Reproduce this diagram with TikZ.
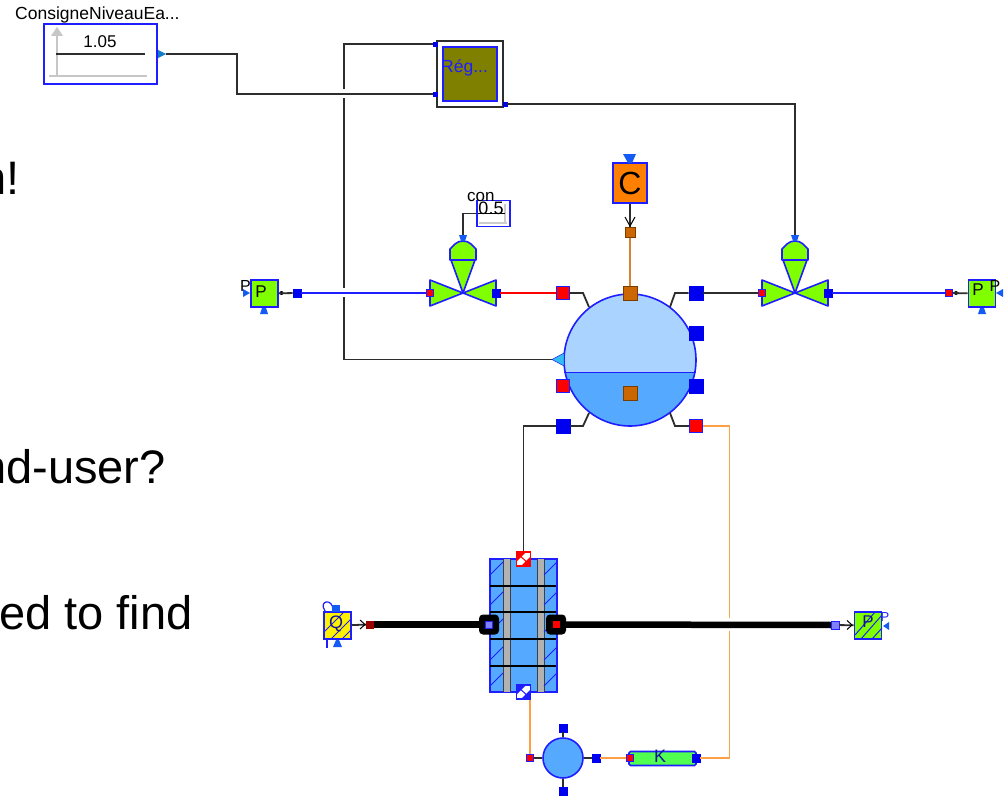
\documentclass[tikz,border=0pt]{standalone}
\usepackage{fontspec}
\setmainfont{Liberation Sans}
\definecolor{bl}{RGB}{30,30,255}
\definecolor{pb}{RGB}{0,0,240}
\definecolor{tip}{RGB}{20,90,245}
\definecolor{grn}{RGB}{128,255,0}
\definecolor{lg}{RGB}{80,255,80}
\definecolor{lb}{RGB}{170,212,255}
\definecolor{mb}{RGB}{85,170,255}
\definecolor{wire}{RGB}{45,45,45}
\definecolor{org}{RGB}{255,128,0}
\definecolor{brn}{RGB}{204,102,0}
\definecolor{olv}{RGB}{128,128,0}
\definecolor{lorg}{RGB}{255,160,70}
\tikzset{
 x=1pt,y=-1pt,
 wireline/.style={draw=wire,line width=1.8pt},
 orgline/.style={draw=lorg,line width=1.9pt},
 blueline/.style={draw=bl,line width=1.8pt},
 thick pipe/.style={draw=black,line width=6.5pt},
 port/.style={rectangle,draw=pb,fill=pb,line width=.6pt,minimum size=#1,inner sep=0pt},
 port/.default=12pt,
 rport/.style={rectangle,draw=bl,fill=red,line width=1.3pt,minimum size=#1,inner sep=0pt},
 rport/.default=12pt,
 bport/.style={rectangle,draw=brn!60!black,fill=brn,line width=1pt,minimum size=#1,inner sep=0pt},
 bport/.default=12pt,
 part/.style={draw=bl,line width=1.6pt,fill=grn,line join=round},
 blbl/.style={inner sep=0pt,font=\fontsize{#1}{#1}\selectfont},
 blbl/.default=12pt,
 slide/.style={inner sep=0pt,anchor=base west,font=\fontsize{47}{47}\selectfont,text=black},
 mini/.style={rectangle,draw=bl,fill=grn,line width=1.6pt,inner sep=0pt},
}
\newcommand{\myvalve}[2]{%
 \path[part] (#1,#2) -- (#1-33,#2-13) -- (#1-33,#2+13) -- cycle;
 \path[part] (#1,#2) -- (#1+33,#2-13) -- (#1+33,#2+13) -- cycle;
 \path[part] (#1,#2) -- (#1-12,#2-33) -- (#1+12,#2-33) -- cycle;
 \path[part] (#1-13,#2-33) -- (#1-13,#2-44) -- (#1-8,#2-49) .. controls (#1-4,#2-53) and (#1+4,#2-53) .. (#1+8,#2-49) -- (#1+13,#2-44) -- (#1+13,#2-33) -- cycle;
 \fill[tip] (#1-4,#2-58) -- (#1+4,#2-58) -- (#1+2,#2-52) -- (#1-2,#2-52) -- cycle;
}
\begin{document}
\begin{tikzpicture}
\useasboundingbox (0,0) rectangle (1008,797);
\fill[white] (0,0) rectangle (1008,797);

% slide text fragments, cut by the picture's left edge as in the reference
\begin{scope}
\clip (0,0) rectangle (1008,797);
\node[slide] (t1) at (-20,194) {n!};
\node[slide] (t2) at (-20,483) {nd-user?};
\node[slide] (t3) at (-1,629) {ed to find};
\end{scope}

% ---------- source block
\node[blbl=17.5pt,anchor=base west] (sname) at (15,20) {ConsigneNiveauEa...};
\node[draw=bl,line width=1.6pt,fill=white,minimum width=113pt,minimum height=60pt,inner sep=0pt] (src) at (100.5,54) {};
\draw[black!22,line width=1.5pt] (57,75) -- (57,32);
\fill[black!22] (51,36) -- (63,36) -- (57,27) -- cycle;
\draw[black!22,line width=1.5pt] (49,76) -- (147,76);
\draw[wire,line width=1.4pt] (56,54) -- (145,54);
\node[blbl=17pt] (val) at (100,42) {1.05};
\fill[cyan!60!blue] (158,50) -- (166,54) -- (158,58) -- cycle;
\coordinate (srcout) at (166,54);

% ---------- regulator
\node[draw=wire,line width=1.6pt,fill=white,minimum width=66pt,minimum height=66pt,inner sep=0pt] (reg) at (470,74) {};
\node[draw=bl,line width=1.6pt,fill=olv,minimum width=54pt,minimum height=54pt,inner sep=0pt] (regin) at (470,74) {};
\node[blbl=17.5pt,text=bl,anchor=west] (regl) at (441,68) {Rég...};
\node[port=4pt] (regA) at (435,44) {};
\node[port=4pt] (regB) at (435,94) {};
\node[port=4pt] (regC) at (505,104) {};

% ---------- tank
\fill[lb] (630,360) circle (66);
\begin{scope}
 \clip (560,372.5) rectangle (700,440);
 \fill[mb] (630,360) circle (66);
\end{scope}
\node[circle,draw=bl,line width=1.6pt,minimum size=132pt,inner sep=0pt] (tank) at (630,360) {};
\draw[bl,line width=1.4pt] (564,372.5) -- (696,372.5);

\node[rport=13pt] (t-in) at (563,293) {};
\node[port=14pt] (t-out) at (696,293) {};
\node[port=14pt] (t-r1) at (696,333) {};
\node[port=14pt] (t-r2) at (696,386) {};
\node[rport=13pt] (t-l2) at (563,386) {};
\node[bport=14pt] (t-top) at (630,293) {};
\node[bport=14pt] (t-mid) at (630,393) {};
\node[port=14pt] (t-bl) at (563,426) {};
\node[rport=13pt] (t-br) at (696,426) {};
\fill[cyan!80!white,draw=bl,line width=.5pt] (564,353) -- (552,359.5) -- (564,366) -- cycle;
\coordinate (t-lvl) at (552,359.5);

\draw[wireline] (t-in) -- (583,293) -- (589,307);
\draw[wireline] (t-out) -- (675,293) -- (670,307);
\draw[wireline] (t-bl) -- (583,426) -- (589,413);
\draw[wireline] (t-br) -- (675,426) -- (670,413);

% ---------- heat source C
\node[draw=bl,line width=1.6pt,fill=org,minimum width=34pt,minimum height=40pt,inner sep=0pt,font=\fontsize{32}{32}\selectfont] (C) at (630,183) {C};
\fill[tip] (623,154) -- (636,154) -- (632,163) -- (628,163) -- cycle;
\node[bport=10pt] (Cp) at (630,232) {};
\draw[wireline] (C) -- (Cp);
\draw[black,line width=1pt] (625,217) -- (630,226) -- (635,217);
\draw[brn,line width=1.8pt,draw opacity=.8] (Cp) -- (t-top);

% ---------- valves
\myvalve{463}{293}
\myvalve{795}{293}
\node[rport=7pt] (v1a) at (430,293) {};
\node[port=8pt] (v1b) at (496,293) {};
\node[rport=7pt] (v2a) at (762,293) {};
\node[port=8pt] (v2b) at (828,293) {};

% con block
\node[draw=bl,line width=1.6pt,fill=white,minimum width=33pt,minimum height=26pt,inner sep=0pt] (con) at (493.5,213.5) {};
\node[blbl=17pt,anchor=base west] (conl) at (467,201) {con};
\draw[black!20,line width=1.2pt] (479,223) -- (507,223);
\draw[black!20,line width=1.2pt] (505,204) -- (505,223);
\node[blbl=18pt] (conv) at (491,208) {0.5};
\draw[black,line width=1pt] (478,213.5) -- (505,213.5);
\draw[wireline] (con.west) -- (463,213.5) -- (463,235);

% ---------- pressure blocks top
\node[mini,minimum width=27pt,minimum height=27pt] (PL) at (264.5,293.5) {};
\node[blbl=17pt] (PLl) at (261,292) {P};
\node[blbl=16pt] (PLn) at (245.5,286) {P};
\fill[tip] (243,289) -- (250,293) -- (243,297) -- cycle;
\fill[tip] (260,314) -- (268,314) -- (266,308) -- (262,308) -- cycle;
\node[port=8pt] (PLp) at (297,293) {};
\fill[black] (281.5,293) circle (2);
\draw[wireline] (PL) -- (PLp);
\node[mini,minimum width=27pt,minimum height=27pt] (PR) at (982,293.5) {};
\node[blbl=17pt] (PRl) at (978,290) {P};
\node[blbl=16pt] (PRn) at (995,286) {P};
\fill[tip] (1003,289) -- (996,293) -- (1003,297) -- cycle;
\fill[tip] (978,314) -- (986,314) -- (984,308) -- (980,308) -- cycle;
\node[rport=7pt] (PRp) at (949,293) {};
\fill[black] (956,293) circle (2);
\draw[wireline] (PRp) -- (PR);

% ---------- main connectors
\draw[wireline] (regA) -- (344,44) -- (344,359.5) -- (t-lvl);
\fill[white] (341,89) rectangle (347,98);
\fill[white] (341,288) rectangle (347,297);
\draw[wireline] (srcout) -- (237,54) -- (237,94) -- (regB);
\draw[blueline] (PLp) -- (v1a);
\draw[red,line width=1.6pt] (v1b) -- (t-in);
\draw[wireline] (t-out) -- (v2a);
\draw[blueline] (v2b) -- (PRp);
\draw[wireline] (regC) -- (795,104) -- (795,235);

% ---------- heat exchanger
\fill[mb,draw=bl,line width=1.6pt] (490,559) rectangle (557,692);
\fill[black!30] (503,559) rectangle (510,692);
\fill[black!30] (537,559) rectangle (544,692);
\foreach \xx in {503,510,537,544} \draw[black!75,line width=.9pt] (\xx,559) -- (\xx,692);
\foreach \xa/\xb in {490/503,544/557} {
 \foreach \yy in {575,605,632,660,686} \draw[bl,line width=1pt] (\xa,\yy) -- (\xb,\yy-13);
}
\foreach \yy in {586,612,639,666} \draw[black,line width=1.3pt] (490,\yy) -- (556,\yy);
\node[draw=red,line width=1.6pt,fill=white,minimum size=14pt,inner sep=0pt] (hxT) at (523.5,559) {};
\fill[red] (517,553) -- (525,553) -- (517,561) -- cycle;
\fill[red] (530,565) -- (522,565) -- (530,557) -- cycle;
\draw[red,line width=1pt] (517,553) -- (530,565);
\node[draw=bl,line width=1.6pt,fill=white,minimum size=14pt,inner sep=0pt] (hxB) at (523.5,692) {};
\fill[bl] (517,686) -- (525,686) -- (517,694) -- cycle;
\fill[bl] (530,698) -- (522,698) -- (530,690) -- cycle;
\draw[bl,line width=1pt] (517,686) -- (530,698);
\draw[wireline] (t-bl) -- (523.5,426) -- (hxT);

% ---------- pump circle and K (drawn before the pipes that cross over)
\node[circle,draw=bl,line width=1.6pt,fill=mb,minimum size=40pt,inner sep=0pt] (pump) at (563,758) {};
\node[rport=7pt] (puL) at (530,758) {};
\node[port=8pt] (puR) at (596,758) {};
\node[port=8pt] (puT) at (563,728) {};
\node[port=8pt] (puB) at (563,791.5) {};
\draw[wireline] (puL) -- (pump);
\draw[wireline] (pump) -- (puR);
\draw[wireline] (puT) -- (pump);
\draw[wireline] (pump) -- (puB);
\node[draw=bl,line width=1.6pt,fill=lg,minimum width=67pt,minimum height=14pt,inner sep=0pt,rounded corners=1.5pt] (K) at (662.5,758.5) {};
\node[blbl=18pt,text=bl!60!black] (Kl) at (660,756) {K};
\node[rport=7pt] (Ka) at (630,758) {};
\node[port=8pt] (Kb) at (696,758) {};
\draw[orgline] (puR) -- (Ka);
\draw[orgline] (puL) -- (puL |- hxB.south);
\draw[orgline] (Kb) -- (729.5,758) -- (729.5,426) -- (t-br);
% line jump of the orange wire over the pipe
\fill[white] (726,618) rectangle (733,631);

% flow ports
\node[rectangle,rounded corners=4pt,fill=black,minimum size=20pt,inner sep=0pt] (hxL) at (489,624.5) {};
\node[rectangle,rounded corners=4pt,fill=black,minimum size=20pt,inner sep=0pt] (hxR) at (556,624.5) {};
\node[fill=blue!50!white,draw=bl,line width=.5pt,minimum size=7pt,inner sep=0pt] (hxLc) at (489,624.5) {};
\node[fill=red,minimum size=7pt,inner sep=0pt] (hxRc) at (556,624.5) {};

% Q source
\node[fill=yellow,draw=bl,line width=1.6pt,minimum size=27pt,inner sep=0pt] (Qb) at (337.5,625.5) {};
\draw[bl,line width=1pt] (324,632) -- (344,612) (331,639) -- (351,619) (342,639) -- (351,630);
\node[blbl=18pt,text=bl!60!black] (Ql) at (336,624) {Q};
\draw[bl,line width=1.2pt] (325,611) .. controls (318,600) and (333,598) .. (333,610);
\fill[tip] (332,605) rectangle (340,612);
\fill[tip] (333,647) -- (342,647) -- (339,640) -- (336,640) -- cycle;
\draw[bl,line width=1.2pt] (327,639) -- (327,648);
\node[fill=red!60!black,minimum size=8pt,inner sep=0pt] (Qp) at (370,624.5) {};
\draw[wireline] (Qb) -- (Qp);
\draw[black,line width=1pt] (360,620) -- (365,624.5) -- (360,629);
\draw[thick pipe] (Qp) -- (hxL);

% P sink lower
\node[rectangle,draw=bl,line width=1.6pt,fill=grn,minimum size=27pt,inner sep=0pt] (Pb) at (868,625.5) {};
\draw[bl,line width=1pt] (855,635) -- (875,612) (861,639) -- (882,615) (872,639) -- (882,628);
\node[blbl=17pt,text=bl!60!black] (Pbl) at (868,622) {P};
\fill[tip] (889,622) -- (883,626) -- (889,630) -- cycle;
\node[blbl=13pt,text=bl] (Pbn) at (885,617) {P};
\node[fill=blue!50!white,draw=bl,line width=.5pt,minimum size=8pt,inner sep=0pt] (Pp) at (835,625) {};
\draw[wireline] (Pp) -- (Pb);
\draw[black,line width=1pt] (847,620.5) -- (852,625) -- (847,629.5);
\draw[thick pipe] (hxR) -- (Pp);
\end{tikzpicture}
\end{document}
